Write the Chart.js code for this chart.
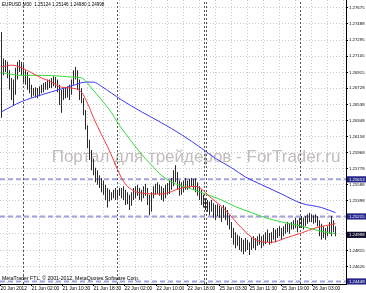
<!DOCTYPE html>
<html>
<head>
<meta charset="utf-8">
<script src="https://cdn.jsdelivr.net/npm/chart.js@4"></script>
<style>
  html, body { margin: 0; padding: 0; background: #fff; }
  #wrap { width: 366px; height: 293px; }
</style>
</head>
<body>
<div id="wrap"><canvas id="chart"></canvas></div>
<script>
const SYMBOL_LINE = "EURUSD,M30  1.25124 1.25146 1.24980 1.24998";
const COPYRIGHT = "MetaTrader FTL, \u00a9 2001-2012, MetaQuotes Software Corp.";
const WATERMARK = "Портал для трейдеров - ForTrader.ru";

// M30 bars from left to right: highs and lows
const highs = [
  1.2739, 1.2708, 1.2706, 1.2704, 1.2694, 1.2685, 1.2683, 1.2697, 1.2704, 1.2706,
  1.2704, 1.2701, 1.2694, 1.2692, 1.2685, 1.2677, 1.2673, 1.2674, 1.2673, 1.2675,
  1.2677, 1.2679, 1.2680, 1.2683, 1.2683, 1.2685, 1.2687, 1.2686, 1.2683, 1.2677,
  1.2671, 1.2673, 1.2674, 1.2675, 1.2677, 1.2683, 1.2694, 1.2698, 1.2694, 1.2683,
  1.2673, 1.2661, 1.2647, 1.2629, 1.2612, 1.2600, 1.2590, 1.2579, 1.2576, 1.2570,
  1.2567, 1.2564, 1.2559, 1.2555, 1.2553, 1.2550, 1.2553, 1.2555, 1.2553, 1.2555,
  1.2555, 1.2557, 1.2553, 1.2550, 1.2547, 1.2550, 1.2555, 1.2557, 1.2559, 1.2555,
  1.2553, 1.2557, 1.2560, 1.2555, 1.2547, 1.2550, 1.2557, 1.2560, 1.2562, 1.2559,
  1.2557, 1.2555, 1.2559, 1.2561, 1.2564, 1.2567, 1.2576, 1.2582, 1.2574, 1.2564,
  1.2562, 1.2564, 1.2567, 1.2564, 1.2566, 1.2567, 1.2566, 1.2567, 1.2562, 1.2557,
  1.2553, 1.2547, 1.2543, 1.2541, 1.2539, 1.2541, 1.2537, 1.2535, 1.2536, 1.2534,
  1.2532, 1.2535, 1.2533, 1.2529, 1.2523, 1.2515, 1.2508, 1.2503, 1.2500, 1.2498,
  1.2496, 1.2494, 1.2496, 1.2494, 1.2491, 1.2496, 1.2498, 1.2496, 1.2498, 1.2501,
  1.2498, 1.2500, 1.2503, 1.2506, 1.2502, 1.2503, 1.2508, 1.2506, 1.2508, 1.2510,
  1.2508, 1.2510, 1.2513, 1.2515, 1.2513, 1.2515, 1.2517, 1.2520, 1.2517, 1.2520,
  1.2522, 1.2520, 1.2522, 1.2524, 1.2526, 1.2524, 1.2523, 1.2524, 1.2522, 1.2517,
  1.2513, 1.2510, 1.2508, 1.2510, 1.2515, 1.2522, 1.2517, 1.2510
];
const lows = [
  1.2638, 1.2688, 1.2692, 1.2685, 1.2671, 1.2659, 1.2653, 1.2665, 1.2683, 1.2692,
  1.2688, 1.2680, 1.2677, 1.2671, 1.2667, 1.2662, 1.2664, 1.2662, 1.2661, 1.2664,
  1.2667, 1.2668, 1.2671, 1.2671, 1.2673, 1.2673, 1.2675, 1.2673, 1.2668, 1.2653,
  1.2644, 1.2659, 1.2661, 1.2662, 1.2659, 1.2665, 1.2677, 1.2683, 1.2671, 1.2659,
  1.2655, 1.2641, 1.2624, 1.2602, 1.2588, 1.2576, 1.2570, 1.2562, 1.2559, 1.2555,
  1.2550, 1.2547, 1.2541, 1.2532, 1.2539, 1.2541, 1.2543, 1.2541, 1.2543, 1.2546,
  1.2543, 1.2541, 1.2535, 1.2536, 1.2529, 1.2534, 1.2541, 1.2543, 1.2546, 1.2541,
  1.2539, 1.2543, 1.2546, 1.2535, 1.2523, 1.2527, 1.2543, 1.2547, 1.2548, 1.2546,
  1.2541, 1.2539, 1.2543, 1.2547, 1.2548, 1.2553, 1.2557, 1.2562, 1.2553, 1.2546,
  1.2547, 1.2550, 1.2553, 1.2553, 1.2555, 1.2557, 1.2553, 1.2550, 1.2546, 1.2541,
  1.2535, 1.2532, 1.2529, 1.2527, 1.2523, 1.2527, 1.2520, 1.2517, 1.2522, 1.2520,
  1.2515, 1.2520, 1.2517, 1.2511, 1.2506, 1.2496, 1.2488, 1.2484, 1.2487, 1.2482,
  1.2480, 1.2477, 1.2480, 1.2482, 1.2476, 1.2482, 1.2484, 1.2482, 1.2487, 1.2488,
  1.2484, 1.2487, 1.2489, 1.2491, 1.2488, 1.2490, 1.2494, 1.2491, 1.2496, 1.2498,
  1.2494, 1.2498, 1.2501, 1.2503, 1.2501, 1.2506, 1.2506, 1.2508, 1.2503, 1.2508,
  1.2508, 1.2506, 1.2510, 1.2513, 1.2515, 1.2515, 1.2513, 1.2514, 1.2510, 1.2498,
  1.2494, 1.2496, 1.2494, 1.2498, 1.2501, 1.2498, 1.2503, 1.2498
];

// moving averages, read at these bar numbers
const redBars = [0, 5, 10, 15, 20, 25, 30, 35, 40, 43, 46, 50, 53, 56, 60, 63, 70, 80, 90, 97, 105, 112, 120, 127, 135, 142, 150, 157, 167];
const redValues = [1.2698, 1.2700, 1.2697, 1.2691, 1.2685, 1.2680, 1.2674, 1.2673, 1.2668, 1.2655, 1.2638, 1.2618, 1.2604, 1.2588, 1.2567, 1.2557, 1.2549, 1.2548, 1.2555, 1.2557, 1.2543, 1.2529, 1.2508, 1.2494, 1.2491, 1.2496, 1.2502, 1.2508, 1.2513];
const greenBars = [0, 10, 20, 30, 35, 40, 45, 50, 55, 59, 65, 70, 75, 80, 87, 95, 102, 110, 117, 125, 132, 140, 150, 160, 167];
const greenValues = [1.2691, 1.2688, 1.2688, 1.2687, 1.2686, 1.2685, 1.2673, 1.2659, 1.2644, 1.2629, 1.2610, 1.2595, 1.2582, 1.2570, 1.2560, 1.2554, 1.2548, 1.2541, 1.2533, 1.2526, 1.2520, 1.2515, 1.2510, 1.2504, 1.2501];
const blueBars = [0, 10, 20, 30, 37, 42, 46, 50, 55, 60, 70, 80, 90, 100, 107, 115, 122, 130, 140, 150, 160, 167];
const blueValues = [1.2645, 1.2657, 1.2665, 1.2672, 1.2677, 1.2680, 1.2680, 1.2675, 1.2667, 1.2659, 1.2645, 1.2632, 1.2618, 1.2602, 1.2590, 1.2579, 1.2568, 1.2559, 1.2548, 1.2537, 1.2532, 1.2526];

// horizontal levels, current bid, day separators (bar numbers)
const levelPrices = [1.25653, 1.25215, 1.24448];
const bidPrice = 1.24998;
const separatorBars = [11, 58, 101.5, 102.5, 149.5];

// price scale labels (two of them are covered by level labels)
const priceTicks = [1.27675, 1.27488, 1.27295, 1.27105, 1.26915, 1.26728, 1.26538, 1.26348, 1.26158,
  1.25968, 1.25778, 1.25588, 1.25398, 1.24815, 1.24626];
const coveredPriceTicks = [1.25208, 1.25018];

// time scale labels and the bar each one starts at
const timeLabels = ["20 Jun 2012", "21 Jun 02:00", "21 Jun 10:30", "21 Jun 18:30", "22 Jun 02:00",
  "22 Jun 10:00", "22 Jun 18:00", "25 Jun 03:30", "25 Jun 11:30", "25 Jun 19:00", "26 Jun 03:00"];
const timeLabelBars = [-0.5, 15, 30.5, 46, 61.5, 77.5, 93, 109, 124, 140, 155.5];

const X_MIN = -0.75, X_MAX = 172.25;
const Y_MIN = 1.24418, Y_MAX = 1.27769;

const FONT = "'Liberation Sans', Arial, sans-serif";
const GRID = "#cacaca";
const NONE = "rgba(0,0,0,0)";

const maLine = (bars, values, color) => ({
  type: "line",
  data: bars.map((b, i) => ({ x: b, y: values[i] })),
  borderColor: color,
  borderWidth: 1,
  pointRadius: 0,
  cubicInterpolationMode: "monotone",
  order: 1
});

const levelData = [];
levelPrices.forEach((p) => {
  levelData.push({ x: X_MIN, y: p }, { x: X_MAX, y: p }, { x: X_MAX, y: null });
});
const separatorData = [];
separatorBars.forEach((b) => {
  separatorData.push({ x: b, y: Y_MIN }, { x: b, y: Y_MAX }, { x: b, y: null });
});

const tickVal = (ctx) => (ctx.tick ? ctx.tick.value : NaN);
const isMarked = (v) => levelPrices.includes(v) || v === bidPrice;

// vertical grid every 8 bars
const gridBars = [];
for (let b = 3; b < X_MAX; b += 8) gridBars.push(b);

const textLayer = {
  id: "textLayer",
  beforeDatasetsDraw(chart) {
    const { ctx, chartArea } = chart;
    ctx.save();
    ctx.font = "17px " + FONT;
    ctx.fillStyle = "#c2bcbc";
    ctx.textAlign = "center";
    ctx.textBaseline = "middle";
    ctx.fillText(WATERMARK, chartArea.left + 196, chartArea.top + 157);
    ctx.restore();
  },
  afterDraw(chart) {
    const { ctx, chartArea } = chart;
    ctx.save();
    ctx.fillStyle = "#000";
    ctx.textAlign = "left";
    ctx.textBaseline = "middle";
    ctx.font = "4.6px " + FONT;
    ctx.fillText(SYMBOL_LINE, chartArea.left + 2, chartArea.top + 5);
    ctx.font = "5.2px " + FONT;
    ctx.fillText(COPYRIGHT, chartArea.left + 2, chartArea.bottom - 5);
    ctx.restore();
  }
};

new Chart(document.getElementById("chart"), {
  type: "bar",
  data: {
    datasets: [
      maLine(redBars, redValues, "#f23a3a"),
      maLine(greenBars, greenValues, "#38d838"),
      maLine(blueBars, blueValues, "#3a3af2"),
      {
        type: "bar",
        data: highs.map((h, i) => ({ x: i, y: [lows[i], h] })),
        backgroundColor: "#2a2a2a",
        barThickness: 1,
        inflateAmount: 0,
        borderWidth: 0,
        order: 2
      },
      {
        type: "line",
        data: levelData,
        borderColor: "#a2a2de",
        borderWidth: 2,
        borderDash: [5, 3],
        pointRadius: 0,
        order: 3
      },
      {
        type: "line",
        data: separatorData,
        borderColor: "#555",
        borderWidth: 1,
        borderDash: [2, 2],
        pointRadius: 0,
        order: 4
      }
    ]
  },
  options: {
    responsive: true,
    maintainAspectRatio: false,
    animation: false,
    layout: { padding: 0 },
    plugins: { legend: { display: false }, tooltip: { enabled: false } },
    scales: {
      x: {
        type: "linear",
        min: X_MIN,
        max: X_MAX,
        offset: false,
        afterBuildTicks: (scale) => {
          const vals = [...new Set([...gridBars, ...timeLabelBars])].sort((a, b) => a - b);
          scale.ticks = vals.map((v) => ({ value: v }));
        },
        afterFit: (scale) => {
          scale.height = 9;
          scale.paddingLeft = 0;
          scale.paddingRight = 0;
        },
        grid: {
          offset: false,
          color: (ctx) => (gridBars.includes(tickVal(ctx)) ? GRID : NONE),
          tickColor: (ctx) => (timeLabelBars.includes(tickVal(ctx)) ? "#000" : NONE),
          tickLength: 2,
          lineWidth: 1
        },
        border: { display: true, color: "#000", width: 1, dash: [1, 2] },
        ticks: {
          autoSkip: false,
          maxRotation: 0,
          minRotation: 0,
          align: "start",
          padding: 0,
          color: "#000",
          font: { family: FONT, size: 4.8 },
          callback: (value) => {
            const k = timeLabelBars.indexOf(value);
            return k >= 0 ? timeLabels[k] : "";
          }
        }
      },
      y: {
        type: "linear",
        position: "right",
        min: Y_MIN,
        max: Y_MAX,
        afterBuildTicks: (scale) => {
          const vals = [...priceTicks, ...coveredPriceTicks, ...levelPrices, bidPrice].sort((a, b) => a - b);
          scale.ticks = vals.map((v) => ({ value: v }));
        },
        afterFit: (scale) => {
          scale.width = 20;
          scale.paddingTop = 0;
          scale.paddingBottom = 0;
        },
        grid: {
          color: (ctx) => (isMarked(tickVal(ctx)) ? NONE : GRID),
          tickColor: (ctx) => (isMarked(tickVal(ctx)) ? NONE : "#000"),
          tickLength: 2,
          lineWidth: 1,
          tickBorderDash: []
        },
        border: { display: true, color: "#000", width: 1, dash: [1, 2] },
        ticks: {
          autoSkip: false,
          padding: 1,
          crossAlign: "near",
          font: { family: FONT, size: 4.3 },
          color: (ctx) => (isMarked(tickVal(ctx)) ? "#fff" : "#000"),
          showLabelBackdrop: (ctx) => isMarked(tickVal(ctx)),
          backdropColor: (ctx) => (tickVal(ctx) === bidPrice ? "#0c0c2a" : "#26268a"),
          backdropPadding: { left: 2, right: 4, top: 0.5, bottom: 0.5 },
          callback: (value) => (coveredPriceTicks.includes(value) ? "" : value.toFixed(5))
        }
      }
    }
  },
  plugins: [textLayer]
});
</script>
</body>
</html>
